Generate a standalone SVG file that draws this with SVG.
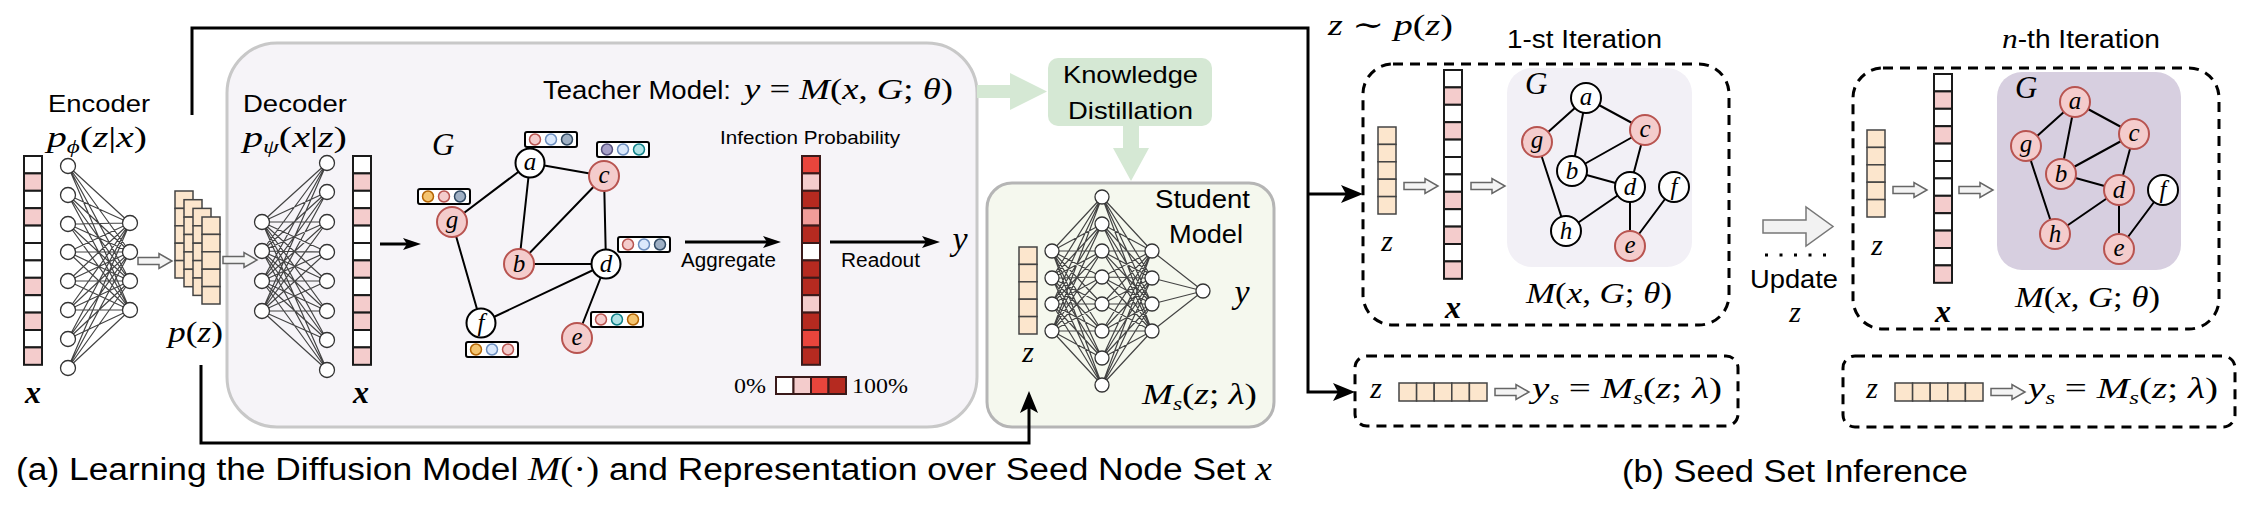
<svg xmlns="http://www.w3.org/2000/svg" width="2242" height="508" viewBox="0 0 2242 508">
<style>
.sans{font-family:"Liberation Sans",Arial,sans-serif;fill:#000}
.m{font-family:"Liberation Serif","DejaVu Serif",serif;fill:#000}
.i{font-style:italic}
.w{fill:#fff;stroke:#1a1a1a;stroke-width:2}
.p{fill:#f4cccc;stroke:#1a1a1a;stroke-width:2}
.z{fill:#fce6cd;stroke:#444;stroke-width:1.5}
.nn{fill:#fff;stroke:#333;stroke-width:1.3}
.net{fill:none;stroke:#444;stroke-width:1.2;stroke-linejoin:round}
.gw{fill:#fff;stroke:#000;stroke-width:2}
.gp{fill:#f4cccc;stroke:#b85450;stroke-width:2}
.ge{fill:none;stroke:#000;stroke-width:2}
.fb{fill:#fff;stroke:#000;stroke-width:2}
.cR{fill:#f4cccc;stroke:#b85450;stroke-width:1.5}
.cB{fill:#dae8fc;stroke:#6c8ebf;stroke-width:1.5}
.cS{fill:#9fb0c4;stroke:#314a63;stroke-width:1.5}
.cP{fill:#a7a0c9;stroke:#56517e;stroke-width:1.5}
.cT{fill:#b0e3e6;stroke:#0e8088;stroke-width:1.5}
.cO{fill:#f5c46f;stroke:#b46504;stroke-width:1.5}
.ha{fill:#f4f4f4;stroke:#666;stroke-width:1.5}
.conn{fill:none;stroke:#000;stroke-width:3;stroke-linejoin:miter}
.dash{fill:none;stroke:#000;stroke-width:3;stroke-dasharray:10 7}
.lbl{font-family:"Liberation Serif","DejaVu Serif",serif;font-style:italic;font-size:25px;text-anchor:middle}
</style>
<defs>
<marker id="ah" markerUnits="userSpaceOnUse" markerWidth="22" markerHeight="20" viewBox="0 0 22 20" refX="14" refY="10" orient="auto"><path d="M0,1 L22,10 L0,19 L5,10 Z" fill="#000"/></marker>
<marker id="ahs" markerUnits="userSpaceOnUse" markerWidth="18" markerHeight="13" viewBox="0 0 18 13" refX="10" refY="6.5" orient="auto"><path d="M0,0.5 L18,6.5 L0,12.5 L4,6.5 Z" fill="#000"/></marker>
<path id="harrow" class="ha" d="M0 -3.5H21V-7.5L34 0L21 7.5V3.5H0Z"/>
<g id="xE">
<rect class="w" x="0" y="0" width="18" height="17.4"/><rect class="p" x="0" y="17.4" width="18" height="17.4"/><rect class="w" x="0" y="34.8" width="18" height="17.4"/><rect class="p" x="0" y="52.2" width="18" height="17.4"/><rect class="w" x="0" y="69.6" width="18" height="17.4"/><rect class="w" x="0" y="87" width="18" height="17.4"/><rect class="w" x="0" y="104.4" width="18" height="17.4"/><rect class="p" x="0" y="121.8" width="18" height="17.4"/><rect class="w" x="0" y="139.2" width="18" height="17.4"/><rect class="p" x="0" y="156.6" width="18" height="17.4"/><rect class="w" x="0" y="174" width="18" height="17.4"/><rect class="p" x="0" y="191.4" width="18" height="17.4"/>
</g>
<g id="xD">
<rect class="w" x="0" y="0" width="18" height="17.4"/><rect class="p" x="0" y="17.4" width="18" height="17.4"/><rect class="w" x="0" y="34.8" width="18" height="17.4"/><rect class="p" x="0" y="52.2" width="18" height="17.4"/><rect class="w" x="0" y="69.6" width="18" height="17.4"/><rect class="w" x="0" y="87" width="18" height="17.4"/><rect class="p" x="0" y="104.4" width="18" height="17.4"/><rect class="w" x="0" y="121.8" width="18" height="17.4"/><rect class="p" x="0" y="139.2" width="18" height="17.4"/><rect class="p" x="0" y="156.6" width="18" height="17.4"/><rect class="w" x="0" y="174" width="18" height="17.4"/><rect class="p" x="0" y="191.4" width="18" height="17.4"/>
</g>
<g id="zcol">
<rect class="z" x="0" y="0" width="18" height="17.4"/><rect class="z" x="0" y="17.4" width="18" height="17.4"/><rect class="z" x="0" y="34.8" width="18" height="17.4"/><rect class="z" x="0" y="52.2" width="18" height="17.4"/><rect class="z" x="0" y="69.6" width="18" height="17.4"/>
</g>
<g id="zrow">
<rect class="z" x="0" y="0" width="17.6" height="18"/><rect class="z" x="17.6" y="0" width="17.6" height="18"/><rect class="z" x="35.2" y="0" width="17.6" height="18"/><rect class="z" x="52.8" y="0" width="17.6" height="18"/><rect class="z" x="70.4" y="0" width="17.6" height="18"/>
</g>
</defs>
<rect width="2242" height="508" fill="#fff"/>

<!-- Containers -->
<g id="teacher-box"><rect x="227" y="43" width="750" height="384" rx="50" fill="#f6f4f8" stroke="#c8c8c8" stroke-width="3"/></g>
<g id="student-box"><rect x="987" y="183" width="287" height="244" rx="25" fill="#f5f8ee" stroke="#b5b5b5" stroke-width="3"/></g>
<g id="iter1-box"><rect class="dash" x="1363" y="64" width="366" height="261" rx="30"/></g>
<g id="iterN-box"><rect class="dash" x="1853" y="68" width="366" height="261" rx="30"/></g>
<g id="student1-box"><rect class="dash" x="1355" y="356" width="383" height="70" rx="12"/></g>
<g id="studentN-box"><rect class="dash" x="1843" y="356" width="392" height="71" rx="12"/></g>

<!-- Connectors -->
<g id="connectors">
<path class="conn" d="M192 115V28H1308V392H1347" marker-end="url(#ah)"/>
<path class="conn" d="M1308 194H1355" marker-end="url(#ah)"/>
<path class="conn" d="M201 365V443H1029V399" marker-end="url(#ah)"/>
<path class="conn" d="M380 244H413" marker-end="url(#ahs)"/>
<path class="conn" d="M685 242H773" marker-end="url(#ahs)"/>
<path class="conn" d="M830 242H932" marker-end="url(#ahs)"/>
<path d="M977 85H1010V73L1047 91.5L1010 110V98H977Z" fill="#d5e8d4"/>
<path d="M1123 126H1139V148H1149L1131 181L1113 148H1123Z" fill="#d5e8d4"/>
<use href="#harrow" x="138" y="261"/>
<use href="#harrow" x="223" y="260"/>
<use href="#harrow" x="1404" y="186"/>
<use href="#harrow" x="1471" y="186"/>
<use href="#harrow" x="1893" y="190"/>
<use href="#harrow" x="1959" y="190"/>
<use href="#harrow" x="1495" y="392"/>
<use href="#harrow" x="1991" y="392"/>
<path d="M1763 220H1806V207L1833 226.5L1806 246V233H1763Z" fill="#f2f2f2" stroke="#777" stroke-width="1.5"/>
<path d="M1765 255H1827" stroke="#000" stroke-width="3" stroke-dasharray="3 11.5"/>
</g>

<!-- Encoder -->
<g id="encoder">
<text class="sans" x="48" y="112" font-size="24" textLength="102" lengthAdjust="spacingAndGlyphs">Encoder</text>
<text class="m" x="47" y="147" font-size="30" textLength="100" lengthAdjust="spacingAndGlyphs"><tspan class="i">p</tspan><tspan class="i" font-size="19" dy="6">ϕ</tspan><tspan dy="-6">(</tspan><tspan class="i">z</tspan>|<tspan class="i">x</tspan>)</text>
<use href="#xE" x="24" y="156"/>
<text class="m i" x="33" y="403" font-size="32" font-weight="bold" text-anchor="middle">x</text>
<path class="net" d="M68 166L130 223L68 195M68 224L130 223L68 252M68 281L130 223L68 310M68 339L130 223L68 368M68 166L130 252L68 195M68 224L130 252L68 252M68 281L130 252L68 310M68 339L130 252L68 368M68 166L130 281L68 195M68 224L130 281L68 252M68 281L130 281L68 310M68 339L130 281L68 368M68 166L130 310L68 195M68 224L130 310L68 252M68 281L130 310L68 310M68 339L130 310L68 368"/>
<circle class="nn" cx="68" cy="166" r="7.5"/><circle class="nn" cx="68" cy="195" r="7.5"/><circle class="nn" cx="68" cy="224" r="7.5"/><circle class="nn" cx="68" cy="252" r="7.5"/><circle class="nn" cx="68" cy="281" r="7.5"/><circle class="nn" cx="68" cy="310" r="7.5"/><circle class="nn" cx="68" cy="339" r="7.5"/><circle class="nn" cx="68" cy="368" r="7.5"/>
<circle class="nn" cx="130" cy="223" r="7.5"/><circle class="nn" cx="130" cy="252" r="7.5"/><circle class="nn" cx="130" cy="281" r="7.5"/><circle class="nn" cx="130" cy="310" r="7.5"/>
</g>

<!-- Latent p(z) -->
<g id="latent">
<use href="#zcol" x="175" y="191"/>
<use href="#zcol" x="184" y="199.7"/>
<use href="#zcol" x="193" y="208.4"/>
<use href="#zcol" x="202" y="217"/>
<text class="m" x="168" y="342" font-size="30" textLength="55" lengthAdjust="spacingAndGlyphs"><tspan class="i">p</tspan>(<tspan class="i">z</tspan>)</text>
</g>

<!-- Decoder -->
<g id="decoder">
<text class="sans" x="243" y="112" font-size="24" textLength="104" lengthAdjust="spacingAndGlyphs">Decoder</text>
<text class="m" x="243" y="147" font-size="30" textLength="104" lengthAdjust="spacingAndGlyphs"><tspan class="i">p</tspan><tspan class="i" font-size="19" dy="6">ψ</tspan><tspan dy="-6">(</tspan><tspan class="i">x</tspan>|<tspan class="i">z</tspan>)</text>
<path class="net" d="M327 163L262 222L327 192M327 222L262 222L327 252M327 281L262 222L327 311M327 340L262 222L327 370M327 163L262 251L327 192M327 222L262 251L327 252M327 281L262 251L327 311M327 340L262 251L327 370M327 163L262 281L327 192M327 222L262 281L327 252M327 281L262 281L327 311M327 340L262 281L327 370M327 163L262 311L327 192M327 222L262 311L327 252M327 281L262 311L327 311M327 340L262 311L327 370"/>
<circle class="nn" cx="262" cy="222" r="7.5"/><circle class="nn" cx="262" cy="251" r="7.5"/><circle class="nn" cx="262" cy="281" r="7.5"/><circle class="nn" cx="262" cy="311" r="7.5"/>
<circle class="nn" cx="327" cy="163" r="7.5"/><circle class="nn" cx="327" cy="192" r="7.5"/><circle class="nn" cx="327" cy="222" r="7.5"/><circle class="nn" cx="327" cy="252" r="7.5"/><circle class="nn" cx="327" cy="281" r="7.5"/><circle class="nn" cx="327" cy="311" r="7.5"/><circle class="nn" cx="327" cy="340" r="7.5"/><circle class="nn" cx="327" cy="370" r="7.5"/>
<use href="#xD" x="353" y="156"/>
<text class="m i" x="361" y="403" font-size="32" font-weight="bold" text-anchor="middle">x</text>
</g>

<!-- Teacher model -->
<g id="teacher">
<text class="sans" x="543" y="99" font-size="25" textLength="188" lengthAdjust="spacingAndGlyphs">Teacher Model:</text>
<text class="m" x="744" y="99" font-size="30" textLength="209" lengthAdjust="spacingAndGlyphs"><tspan class="i">y</tspan> = <tspan class="i">M</tspan>(<tspan class="i">x</tspan>, <tspan class="i">G</tspan>; <tspan class="i">θ</tspan>)</text>
<text class="m i" x="432" y="155" font-size="31">G</text>
<path class="ge" d="M530 163L452 222M530 163L604 176M530 163L519 264M519 264L604 176M604 176L606 264M519 264L606 264M452 222L481 323M481 323L606 264M606 264L577 338"/>
<g id="t-a"><circle class="gw" cx="530" cy="163" r="14.5"/><text class="lbl" x="530" y="170">a</text></g>
<g id="t-c"><circle class="gp" cx="604" cy="176" r="15"/><text class="lbl" x="604" y="183">c</text></g>
<g id="t-g"><circle class="gp" cx="452" cy="222" r="15"/><text class="lbl" x="452" y="228">g</text></g>
<g id="t-b"><circle class="gp" cx="519" cy="264" r="15"/><text class="lbl" x="519" y="272">b</text></g>
<g id="t-d"><circle class="gw" cx="606" cy="264" r="14.5"/><text class="lbl" x="606" y="272">d</text></g>
<g id="t-f"><circle class="gw" cx="481" cy="323" r="14.5"/><text class="lbl" x="481" y="331">f</text></g>
<g id="t-e"><circle class="gp" cx="577" cy="338" r="15"/><text class="lbl" x="577" y="345">e</text></g>
<g id="f-a" transform="translate(525,132)"><rect class="fb" width="52" height="15" rx="2"/><circle class="cR" cx="10" cy="7.5" r="5.5"/><circle class="cB" cx="26" cy="7.5" r="5.5"/><circle class="cS" cx="42" cy="7.5" r="5.5"/></g>
<g id="f-c" transform="translate(597,142)"><rect class="fb" width="52" height="15" rx="2"/><circle class="cP" cx="10" cy="7.5" r="5.5"/><circle class="cB" cx="26" cy="7.5" r="5.5"/><circle class="cT" cx="42" cy="7.5" r="5.5"/></g>
<g id="f-g" transform="translate(418,189)"><rect class="fb" width="52" height="15" rx="2"/><circle class="cO" cx="10" cy="7.5" r="5.5"/><circle class="cR" cx="26" cy="7.5" r="5.5"/><circle class="cS" cx="42" cy="7.5" r="5.5"/></g>
<g id="f-d" transform="translate(618,237)"><rect class="fb" width="52" height="15" rx="2"/><circle class="cR" cx="10" cy="7.5" r="5.5"/><circle class="cB" cx="26" cy="7.5" r="5.5"/><circle class="cS" cx="42" cy="7.5" r="5.5"/></g>
<g id="f-e" transform="translate(591,312)"><rect class="fb" width="52" height="15" rx="2"/><circle class="cR" cx="10" cy="7.5" r="5.5"/><circle class="cT" cx="26" cy="7.5" r="5.5"/><circle class="cO" cx="42" cy="7.5" r="5.5"/></g>
<g id="f-f" transform="translate(466,342)"><rect class="fb" width="52" height="15" rx="2"/><circle class="cO" cx="10" cy="7.5" r="5.5"/><circle class="cB" cx="26" cy="7.5" r="5.5"/><circle class="cR" cx="42" cy="7.5" r="5.5"/></g>
<text class="sans" x="681" y="267" font-size="20" textLength="95" lengthAdjust="spacingAndGlyphs">Aggregate</text>
<text class="sans" x="720" y="144" font-size="19" textLength="180" lengthAdjust="spacingAndGlyphs">Infection Probability</text>
<g id="prob" stroke="#3a1a1a" stroke-width="2">
<rect x="802" y="156" width="18" height="17.4" fill="#e8453c"/><rect x="802" y="173.4" width="18" height="17.4" fill="#f4cccc"/><rect x="802" y="190.8" width="18" height="17.4" fill="#b52a20"/><rect x="802" y="208.2" width="18" height="17.4" fill="#f19c99"/><rect x="802" y="225.6" width="18" height="17.4" fill="#b52a20"/><rect x="802" y="243" width="18" height="17.4" fill="#fff"/><rect x="802" y="260.4" width="18" height="17.4" fill="#b52a20"/><rect x="802" y="277.8" width="18" height="17.4" fill="#b52a20"/><rect x="802" y="295.2" width="18" height="17.4" fill="#f4cccc"/><rect x="802" y="312.6" width="18" height="17.4" fill="#b52a20"/><rect x="802" y="330" width="18" height="17.4" fill="#e8453c"/><rect x="802" y="347.4" width="18" height="17.4" fill="#b52a20"/>
</g>
<text class="sans" x="841" y="267" font-size="20" textLength="79" lengthAdjust="spacingAndGlyphs">Readout</text>
<text class="m i" x="960" y="250" font-size="34" text-anchor="middle">y</text>
<text class="m" x="734" y="393" font-size="22" textLength="32" lengthAdjust="spacingAndGlyphs">0%</text>
<g id="legend" stroke="#3a1a1a" stroke-width="2">
<rect x="776" y="377" width="17.5" height="17" fill="#fff"/><rect x="793.5" y="377" width="17.5" height="17" fill="#f4cccc"/><rect x="811" y="377" width="17.5" height="17" fill="#e8453c"/><rect x="828.5" y="377" width="17.5" height="17" fill="#b52a20"/>
</g>
<text class="m" x="852" y="393" font-size="22" textLength="56" lengthAdjust="spacingAndGlyphs">100%</text>
</g>

<!-- Knowledge distillation -->
<g id="kd">
<rect x="1048" y="58" width="164" height="68" rx="10" fill="#d5e8d4"/>
<text class="sans" x="1063" y="83" font-size="24" textLength="135" lengthAdjust="spacingAndGlyphs">Knowledge</text>
<text class="sans" x="1068" y="119" font-size="24" textLength="125" lengthAdjust="spacingAndGlyphs">Distillation</text>
</g>

<!-- Student model -->
<g id="student">
<text class="sans" x="1155" y="208" font-size="25" textLength="95" lengthAdjust="spacingAndGlyphs">Student</text>
<text class="sans" x="1169" y="243" font-size="25" textLength="74" lengthAdjust="spacingAndGlyphs">Model</text>
<use href="#zcol" x="1019" y="247"/>
<text class="m i" x="1028" y="362" font-size="30" text-anchor="middle">z</text>
<path class="net" d="M1052 251L1102 197L1052 278M1052 304L1102 197L1052 331M1052 251L1102 224L1052 278M1052 304L1102 224L1052 331M1052 251L1102 251L1052 278M1052 304L1102 251L1052 331M1052 251L1102 277L1052 278M1052 304L1102 277L1052 331M1052 251L1102 304L1052 278M1052 304L1102 304L1052 331M1052 251L1102 331L1052 278M1052 304L1102 331L1052 331M1052 251L1102 358L1052 278M1052 304L1102 358L1052 331M1052 251L1102 385L1052 278M1052 304L1102 385L1052 331M1152 251L1102 197L1152 278M1152 304L1102 197L1152 331M1152 251L1102 224L1152 278M1152 304L1102 224L1152 331M1152 251L1102 251L1152 278M1152 304L1102 251L1152 331M1152 251L1102 277L1152 278M1152 304L1102 277L1152 331M1152 251L1102 304L1152 278M1152 304L1102 304L1152 331M1152 251L1102 331L1152 278M1152 304L1102 331L1152 331M1152 251L1102 358L1152 278M1152 304L1102 358L1152 331M1152 251L1102 385L1152 278M1152 304L1102 385L1152 331M1152 251L1203 291L1152 278M1152 304L1203 291L1152 331"/>
<circle class="nn" cx="1052" cy="251" r="7"/><circle class="nn" cx="1052" cy="278" r="7"/><circle class="nn" cx="1052" cy="304" r="7"/><circle class="nn" cx="1052" cy="331" r="7"/>
<circle class="nn" cx="1102" cy="197" r="7"/><circle class="nn" cx="1102" cy="224" r="7"/><circle class="nn" cx="1102" cy="251" r="7"/><circle class="nn" cx="1102" cy="277" r="7"/><circle class="nn" cx="1102" cy="304" r="7"/><circle class="nn" cx="1102" cy="331" r="7"/><circle class="nn" cx="1102" cy="358" r="7"/><circle class="nn" cx="1102" cy="385" r="7"/>
<circle class="nn" cx="1152" cy="251" r="7"/><circle class="nn" cx="1152" cy="278" r="7"/><circle class="nn" cx="1152" cy="304" r="7"/><circle class="nn" cx="1152" cy="331" r="7"/>
<circle class="nn" cx="1203" cy="291" r="7"/>
<text class="m i" x="1242" y="303" font-size="34" text-anchor="middle">y</text>
<text class="m" x="1142" y="404" font-size="30" textLength="115" lengthAdjust="spacingAndGlyphs"><tspan class="i">M</tspan><tspan class="i" font-size="19" dy="6">s</tspan><tspan dy="-6">(</tspan><tspan class="i">z</tspan>; <tspan class="i">λ</tspan>)</text>
</g>

<!-- Seed set inference -->
<text class="m" x="1328" y="35" font-size="30" textLength="125" lengthAdjust="spacingAndGlyphs"><tspan class="i">z</tspan> ∼ <tspan class="i">p</tspan>(<tspan class="i">z</tspan>)</text>

<g id="iter1">
<text class="sans" x="1507" y="48" font-size="25" textLength="155" lengthAdjust="spacingAndGlyphs">1-st Iteration</text>
<use href="#zcol" x="1378" y="127"/>
<text class="m i" x="1387" y="251" font-size="30" text-anchor="middle">z</text>
<use href="#xE" x="1444" y="70"/>
<text class="m i" x="1453" y="318" font-size="32" font-weight="bold" text-anchor="middle">x</text>
<rect x="1507" y="68" width="185" height="199" rx="25" fill="#f2f0f6"/>
<text class="m i" x="1525" y="94" font-size="31">G</text>
<path class="ge" d="M1586 98L1537 142M1586 98L1645 130M1586 98L1572 171M1572 171L1645 130M1572 171L1630 187M1645 130L1630 187M1537 142L1566 231M1566 231L1630 187M1630 187L1630 246M1630 246L1674 187"/>
<g id="i1-a"><circle class="gw" cx="1586" cy="98" r="15"/><text class="lbl" x="1586" y="105">a</text></g>
<g id="i1-c"><circle class="gp" cx="1645" cy="130" r="15"/><text class="lbl" x="1645" y="137">c</text></g>
<g id="i1-g"><circle class="gp" cx="1537" cy="142" r="15"/><text class="lbl" x="1537" y="148">g</text></g>
<g id="i1-b"><circle class="gw" cx="1572" cy="171" r="15"/><text class="lbl" x="1572" y="179">b</text></g>
<g id="i1-d"><circle class="gw" cx="1630" cy="187" r="15"/><text class="lbl" x="1630" y="195">d</text></g>
<g id="i1-f"><circle class="gw" cx="1674" cy="187" r="15"/><text class="lbl" x="1674" y="195">f</text></g>
<g id="i1-h"><circle class="gw" cx="1566" cy="231" r="15"/><text class="lbl" x="1566" y="239">h</text></g>
<g id="i1-e"><circle class="gp" cx="1630" cy="246" r="15"/><text class="lbl" x="1630" y="253">e</text></g>
<text class="m" x="1526" y="303" font-size="30" textLength="146" lengthAdjust="spacingAndGlyphs"><tspan class="i">M</tspan>(<tspan class="i">x</tspan>, <tspan class="i">G</tspan>; <tspan class="i">θ</tspan>)</text>
</g>

<g id="student1">
<text class="m i" x="1376" y="398" font-size="30" text-anchor="middle">z</text>
<use href="#zrow" x="1399" y="383"/>
<text class="m" x="1532" y="398" font-size="30" textLength="190" lengthAdjust="spacingAndGlyphs"><tspan class="i">y</tspan><tspan class="i" font-size="19" dy="6">s</tspan><tspan dy="-6"> = </tspan><tspan class="i">M</tspan><tspan class="i" font-size="19" dy="6">s</tspan><tspan dy="-6">(</tspan><tspan class="i">z</tspan>; <tspan class="i">λ</tspan>)</text>
</g>

<g id="update">
<text class="sans" x="1750" y="288" font-size="26" textLength="88" lengthAdjust="spacingAndGlyphs">Update</text>
<text class="m i" x="1795" y="322" font-size="30" text-anchor="middle">z</text>
</g>

<g id="iterN">
<text x="2002" y="48" textLength="158" lengthAdjust="spacingAndGlyphs"><tspan class="m i" font-size="28">n</tspan><tspan class="sans" font-size="25">-th Iteration</tspan></text>
<use href="#zcol" x="1867" y="130"/>
<text class="m i" x="1877" y="255" font-size="30" text-anchor="middle">z</text>
<use href="#xE" x="1934" y="74"/>
<text class="m i" x="1943" y="322" font-size="32" font-weight="bold" text-anchor="middle">x</text>
<rect x="1997" y="72" width="184" height="198" rx="25" fill="#d7cfe0"/>
<text class="m i" x="2015" y="98" font-size="31">G</text>
<path class="ge" d="M2075 102L2026 146M2075 102L2134 134M2075 102L2061 174M2061 174L2134 134M2061 174L2119 190M2134 134L2119 190M2026 146L2055 234M2055 234L2119 190M2119 190L2119 249M2119 249L2163 190"/>
<g id="in-a"><circle class="gp" cx="2075" cy="102" r="15"/><text class="lbl" x="2075" y="109">a</text></g>
<g id="in-c"><circle class="gp" cx="2134" cy="134" r="15"/><text class="lbl" x="2134" y="141">c</text></g>
<g id="in-g"><circle class="gp" cx="2026" cy="146" r="15"/><text class="lbl" x="2026" y="152">g</text></g>
<g id="in-b"><circle class="gp" cx="2061" cy="174" r="15"/><text class="lbl" x="2061" y="182">b</text></g>
<g id="in-d"><circle class="gp" cx="2119" cy="190" r="15"/><text class="lbl" x="2119" y="198">d</text></g>
<g id="in-f"><circle class="gw" cx="2163" cy="190" r="15"/><text class="lbl" x="2163" y="198">f</text></g>
<g id="in-h"><circle class="gp" cx="2055" cy="234" r="15"/><text class="lbl" x="2055" y="242">h</text></g>
<g id="in-e"><circle class="gp" cx="2119" cy="249" r="15"/><text class="lbl" x="2119" y="256">e</text></g>
<text class="m" x="2015" y="307" font-size="30" textLength="145" lengthAdjust="spacingAndGlyphs"><tspan class="i">M</tspan>(<tspan class="i">x</tspan>, <tspan class="i">G</tspan>; <tspan class="i">θ</tspan>)</text>
</g>

<g id="studentN">
<text class="m i" x="1872" y="398" font-size="30" text-anchor="middle">z</text>
<use href="#zrow" x="1895" y="383"/>
<text class="m" x="2028" y="398" font-size="30" textLength="190" lengthAdjust="spacingAndGlyphs"><tspan class="i">y</tspan><tspan class="i" font-size="19" dy="6">s</tspan><tspan dy="-6"> = </tspan><tspan class="i">M</tspan><tspan class="i" font-size="19" dy="6">s</tspan><tspan dy="-6">(</tspan><tspan class="i">z</tspan>; <tspan class="i">λ</tspan>)</text>
</g>

<!-- Captions -->
<text class="sans" x="16" y="480" font-size="31" textLength="1256" lengthAdjust="spacingAndGlyphs">(a) Learning the Diffusion Model <tspan class="m i" font-size="34">M</tspan><tspan class="m" font-size="34">(·)</tspan> and Representation over Seed Node Set <tspan class="m i" font-size="33">x</tspan></text>
<text class="sans" x="1622" y="482" font-size="31" textLength="346" lengthAdjust="spacingAndGlyphs">(b) Seed Set Inference</text>
</svg>
